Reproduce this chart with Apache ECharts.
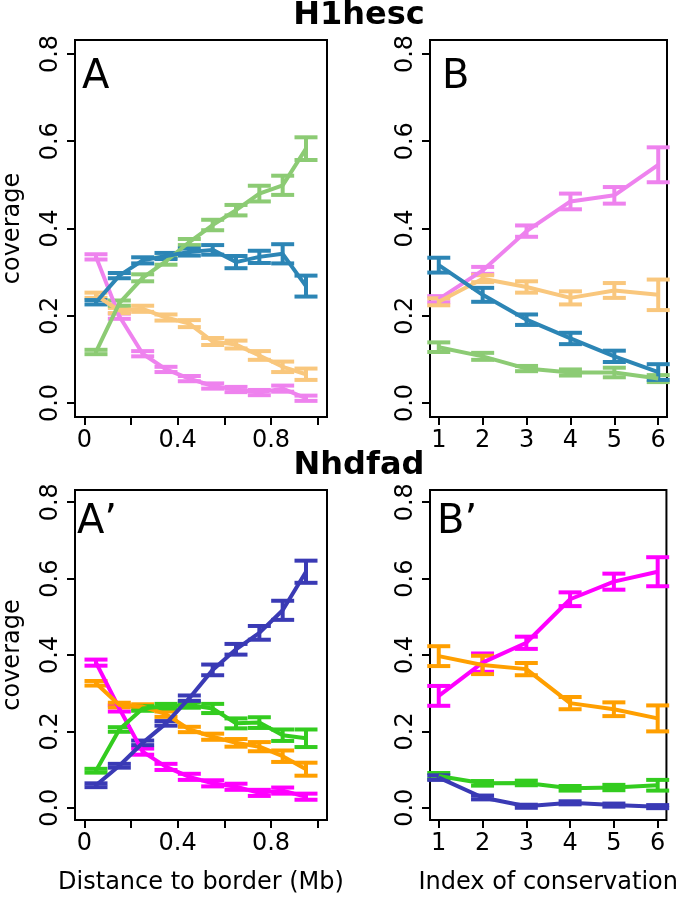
<!DOCTYPE html>
<html><head><meta charset="utf-8">
<script src="https://cdn.jsdelivr.net/npm/echarts@6/dist/echarts.min.js"></script>
<style>html,body{margin:0;padding:0;background:#fff}#c{width:680px;height:898px}</style>
</head><body><div id="c"></div>
<script>
// ---------- data ----------
const distX = [0.05,0.15,0.25,0.35,0.45,0.55,0.65,0.75,0.85,0.95];
const consX = [1,2,3,4,5,6];
const yTicks = [0,0.2,0.4,0.6,0.8];
const distTicks = [0,0.2,0.4,0.6,0.8,1.0];
const distTickLabels = [0,0.4,0.8];
const consTicks = [1,2,3,4,5,6];

const panelTitles = ['H1hesc','Nhdfad'];
const panelLetters = ['A','B','A\u2019','B\u2019'];

// H1hesc - distance to border
const h1DistViolet    = [0.335,0.199,0.113,0.077,0.056,0.039,0.031,0.024,0.033,0.011];
const h1DistVioletErr = [0.006,0.006,0.006,0.006,0.006,0.006,0.006,0.006,0.007,0.006];
const h1DistOrange    = [0.247,0.212,0.216,0.196,0.182,0.141,0.134,0.109,0.083,0.066];
const h1DistOrangeErr = [0.006,0.006,0.007,0.007,0.008,0.008,0.009,0.010,0.012,0.013];
const h1DistGreen     = [0.117,0.229,0.287,0.325,0.369,0.408,0.442,0.480,0.499,0.583];
const h1DistGreenErr  = [0.005,0.006,0.008,0.008,0.007,0.012,0.012,0.018,0.022,0.026];
const h1DistBlue      = [0.231,0.292,0.327,0.337,0.346,0.351,0.323,0.335,0.342,0.268];
const h1DistBlueErr   = [0.005,0.006,0.007,0.007,0.008,0.011,0.014,0.014,0.022,0.024];

// H1hesc - index of conservation
const h1ConsViolet    = [0.238,0.304,0.394,0.462,0.476,0.546];
const h1ConsVioletErr = [0.007,0.008,0.013,0.018,0.019,0.040];
const h1ConsOrange    = [0.232,0.285,0.266,0.241,0.258,0.248];
const h1ConsOrangeErr = [0.008,0.008,0.013,0.015,0.017,0.035];
const h1ConsGreen     = [0.128,0.107,0.079,0.070,0.070,0.056];
const h1ConsGreenErr  = [0.011,0.008,0.006,0.007,0.011,0.008];
const h1ConsBlue      = [0.316,0.248,0.191,0.148,0.107,0.071];
const h1ConsBlueErr   = [0.017,0.016,0.012,0.013,0.013,0.018];

// Nhdfad - distance to border
const nhDistMagenta    = [0.380,0.260,0.147,0.107,0.081,0.064,0.055,0.039,0.045,0.029];
const nhDistMagentaErr = [0.008,0.008,0.008,0.008,0.008,0.008,0.008,0.008,0.008,0.008];
const nhDistOrange     = [0.326,0.269,0.265,0.245,0.205,0.186,0.170,0.160,0.135,0.101];
const nhDistOrangeErr  = [0.006,0.006,0.006,0.007,0.007,0.008,0.010,0.012,0.015,0.017];
const nhDistGreen      = [0.097,0.205,0.260,0.266,0.269,0.260,0.221,0.223,0.190,0.182];
const nhDistGreenErr   = [0.005,0.006,0.006,0.006,0.007,0.012,0.013,0.014,0.015,0.023];
const nhDistBlue       = [0.059,0.110,0.170,0.221,0.287,0.361,0.415,0.458,0.517,0.618];
const nhDistBlueErr    = [0.005,0.005,0.006,0.006,0.007,0.014,0.014,0.018,0.025,0.029];

// Nhdfad - index of conservation
const nhConsMagenta    = [0.293,0.380,0.432,0.546,0.592,0.618];
const nhConsMagentaErr = [0.026,0.024,0.016,0.018,0.021,0.038];
const nhConsOrange     = [0.397,0.374,0.363,0.274,0.258,0.234];
const nhConsOrangeErr  = [0.026,0.024,0.016,0.016,0.018,0.034];
const nhConsGreen      = [0.083,0.064,0.065,0.051,0.053,0.059];
const nhConsGreenErr   = [0.008,0.006,0.006,0.006,0.007,0.014];
const nhConsBlue       = [0.079,0.027,0.004,0.013,0.007,0.003];
const nhConsBlueErr    = [0.006,0.005,0.004,0.004,0.004,0.004];

// ---------- styling ----------
const FONT = 'DejaVu Sans';
const LW = 4;
const CAP = 11.5;
const h1Colors = {v:'#EE82EE', o:'#F9C77D', g:'#8CCB74', b:'#2C85B5'};
const nhColors = {v:'#FF00FF', o:'#FF9F00', g:'#33CC1F', b:'#3A3AB5'};

const grids = [
  {left:69, top:40, width:258, height:377},
  {left:430, top:40, width:237, height:377},
  {left:69, top:490, width:258, height:330},
  {left:430, top:490, width:237, height:330}
].map(g => Object.assign({show:true, borderColor:'#000', borderWidth:2, backgroundColor:'transparent'}, g));

function xAxisCfg(gi, isDist, name) {
  return {
    gridIndex: gi, type:'value',
    min: isDist ? -0.04 : 0.8, max: isDist ? 1.04 : 6.2,
    splitLine:{show:false},
    axisLine:{show:false, onZero:false},
    axisTick:{show:true, length:8, customValues: isDist ? distTicks : consTicks, lineStyle:{color:'#000', width:2}},
    axisLabel:{customValues: isDist ? distTickLabels : consTicks, margin:12, color:'#000', fontSize:24, fontFamily:FONT,
      formatter: v => (isDist ? (v === 0 ? '0' : v.toFixed(1)) : String(v))},
    name: name || '', nameLocation:'middle', nameGap:51,
    nameTextStyle:{color:'#000', fontSize:24, fontFamily:FONT}
  };
}
function yAxisCfg(gi, name) {
  return {
    gridIndex: gi, type:'value', min:-0.032, max:0.832,
    splitLine:{show:false},
    axisLine:{show:false, onZero:false},
    axisTick:{show:true, length:8, customValues:yTicks, lineStyle:{color:'#000', width:2}},
    axisLabel:{customValues:yTicks, rotate:90, margin:12, color:'#000', fontSize:24, fontFamily:FONT,
      formatter: v => v.toFixed(1)},
    name: name || '', nameLocation:'middle', nameRotate:90, nameGap:50,
    nameTextStyle:{color:'#000', fontSize:24, fontFamily:FONT}
  };
}

function renderErr(params, api) {
  const x = api.value(0), y = api.value(1), e = api.value(2);
  const lo = api.coord([x, y - e]), hi = api.coord([x, y + e]);
  const c = api.visual('color');
  const st = {stroke:c, lineWidth:LW};
  return {type:'group', children:[
    {type:'line', shape:{x1:lo[0], y1:lo[1], x2:hi[0], y2:hi[1]}, style:st},
    {type:'line', shape:{x1:lo[0]-CAP, y1:lo[1], x2:lo[0]+CAP, y2:lo[1]}, style:st},
    {type:'line', shape:{x1:hi[0]-CAP, y1:hi[1], x2:hi[0]+CAP, y2:hi[1]}, style:st}
  ]};
}

const series = [];
function addGroup(gi, xs, ys, errs, color) {
  series.push({type:'line', xAxisIndex:gi, yAxisIndex:gi, data: xs.map((x,i)=>[x, ys[i]]),
    showSymbol:false, symbol:'none', lineStyle:{color:color, width:LW}, itemStyle:{color:color}, silent:true});
  series.push({type:'custom', xAxisIndex:gi, yAxisIndex:gi, data: xs.map((x,i)=>[x, ys[i], errs[i]]),
    encode:{x:0, y:1}, itemStyle:{color:color}, renderItem:renderErr, silent:true});
}
addGroup(0, distX, h1DistViolet, h1DistVioletErr, h1Colors.v);
addGroup(0, distX, h1DistOrange, h1DistOrangeErr, h1Colors.o);
addGroup(0, distX, h1DistGreen, h1DistGreenErr, h1Colors.g);
addGroup(0, distX, h1DistBlue, h1DistBlueErr, h1Colors.b);

addGroup(1, consX, h1ConsViolet, h1ConsVioletErr, h1Colors.v);
addGroup(1, consX, h1ConsOrange, h1ConsOrangeErr, h1Colors.o);
addGroup(1, consX, h1ConsGreen, h1ConsGreenErr, h1Colors.g);
addGroup(1, consX, h1ConsBlue, h1ConsBlueErr, h1Colors.b);

addGroup(2, distX, nhDistMagenta, nhDistMagentaErr, nhColors.v);
addGroup(2, distX, nhDistOrange, nhDistOrangeErr, nhColors.o);
addGroup(2, distX, nhDistGreen, nhDistGreenErr, nhColors.g);
addGroup(2, distX, nhDistBlue, nhDistBlueErr, nhColors.b);

addGroup(3, consX, nhConsMagenta, nhConsMagentaErr, nhColors.v);
addGroup(3, consX, nhConsOrange, nhConsOrangeErr, nhColors.o);
addGroup(3, consX, nhConsGreen, nhConsGreenErr, nhColors.g);
addGroup(3, consX, nhConsBlue, nhConsBlueErr, nhColors.b);

const textEl = (txt, x, y, font, align) => ({type:'text', x:x, y:y, z:100,
  style:{text:txt, font:font, fill:'#000', align:align||'left', verticalAlign:'middle'}});

const chart = echarts.init(document.getElementById('c'), null, {renderer:'canvas'});
chart.setOption({
  animation:false,
  backgroundColor:'#fff',
  grid: grids,
  xAxis: [xAxisCfg(0,true), xAxisCfg(1,false), xAxisCfg(2,true,'Distance to border (Mb)'), xAxisCfg(3,false,'Index of conservation')],
  yAxis: [yAxisCfg(0,'coverage'), yAxisCfg(1), yAxisCfg(2,'coverage'), yAxisCfg(3)],
  series: series,
  graphic: [
    textEl(panelTitles[0], 359, 16, 'bold 32px "DejaVu Sans"', 'center'),
    textEl(panelTitles[1], 359, 466, 'bold 32px "DejaVu Sans"', 'center'),
    textEl(panelLetters[0], 82, 78, '40px "DejaVu Sans"'),
    textEl(panelLetters[1], 442, 78, '40px "DejaVu Sans"'),
    textEl(panelLetters[2], 77, 523, '40px "DejaVu Sans"'),
    textEl(panelLetters[3], 437, 523, '40px "DejaVu Sans"')
  ]
});
</script></body></html>
